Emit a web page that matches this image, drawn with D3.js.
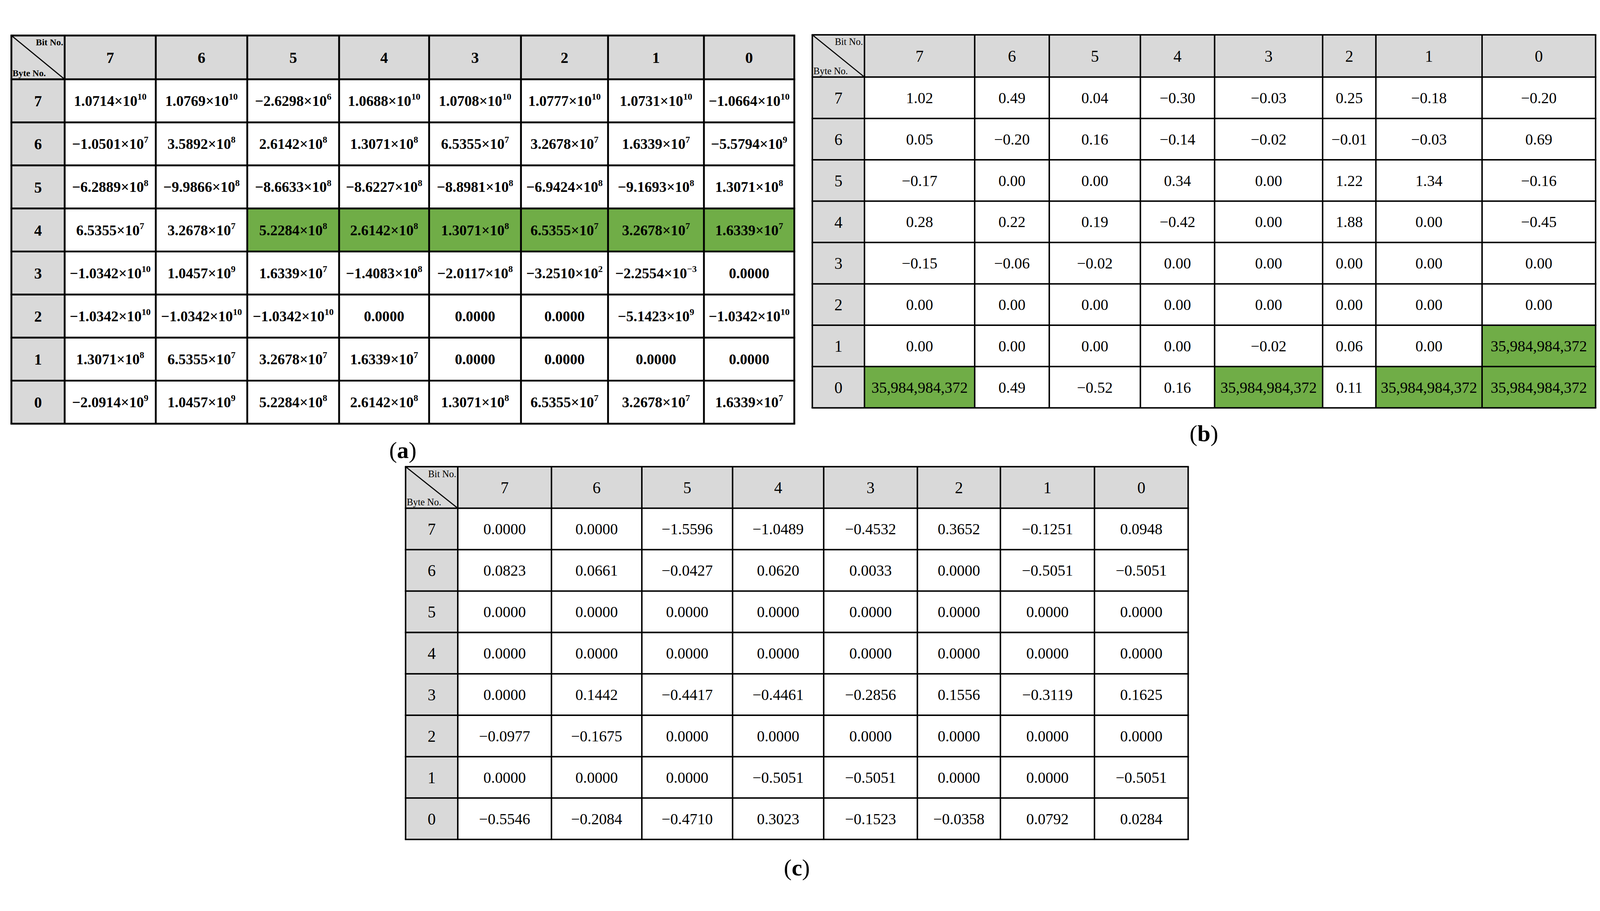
<!DOCTYPE html>
<html>
<head>
<meta charset="utf-8">
<script src="https://cdn.jsdelivr.net/npm/d3@7"></script>
<style>
  html, body { margin: 0; padding: 0; background: #fff; overflow: hidden; }
  svg { display: block; width: 100vw; height: 100vh; }
</style>
</head>
<body>
<svg id="chart" viewBox="0 0 4355 2331" preserveAspectRatio="xMidYMid meet"></svg>
<script>
// Column headers (bit numbers) and row headers (byte numbers)
const bits = ['7', '6', '5', '4', '3', '2', '1', '0']
const bytes = ['7', '6', '5', '4', '3', '2', '1', '0']

// Table (a) values, "^" marks the exponent
const valuesA = [
    ['1.0714×10^10', '1.0769×10^10', '−2.6298×10^6', '1.0688×10^10', '1.0708×10^10', '1.0777×10^10', '1.0731×10^10', '−1.0664×10^10'],
    ['−1.0501×10^7', '3.5892×10^8', '2.6142×10^8', '1.3071×10^8', '6.5355×10^7', '3.2678×10^7', '1.6339×10^7', '−5.5794×10^9'],
    ['−6.2889×10^8', '−9.9866×10^8', '−8.6633×10^8', '−8.6227×10^8', '−8.8981×10^8', '−6.9424×10^8', '−9.1693×10^8', '1.3071×10^8'],
    ['6.5355×10^7', '3.2678×10^7', '5.2284×10^8', '2.6142×10^8', '1.3071×10^8', '6.5355×10^7', '3.2678×10^7', '1.6339×10^7'],
    ['−1.0342×10^10', '1.0457×10^9', '1.6339×10^7', '−1.4083×10^8', '−2.0117×10^8', '−3.2510×10^2', '−2.2554×10^−3', '0.0000'],
    ['−1.0342×10^10', '−1.0342×10^10', '−1.0342×10^10', '0.0000', '0.0000', '0.0000', '−5.1423×10^9', '−1.0342×10^10'],
    ['1.3071×10^8', '6.5355×10^7', '3.2678×10^7', '1.6339×10^7', '0.0000', '0.0000', '0.0000', '0.0000'],
    ['−2.0914×10^9', '1.0457×10^9', '5.2284×10^8', '2.6142×10^8', '1.3071×10^8', '6.5355×10^7', '3.2678×10^7', '1.6339×10^7']
]
const highlightA = [[3, 2], [3, 3], [3, 4], [3, 5], [3, 6], [3, 7]]

const valuesB = [
    ['1.02', '0.49', '0.04', '−0.30', '−0.03', '0.25', '−0.18', '−0.20'],
    ['0.05', '−0.20', '0.16', '−0.14', '−0.02', '−0.01', '−0.03', '0.69'],
    ['−0.17', '0.00', '0.00', '0.34', '0.00', '1.22', '1.34', '−0.16'],
    ['0.28', '0.22', '0.19', '−0.42', '0.00', '1.88', '0.00', '−0.45'],
    ['−0.15', '−0.06', '−0.02', '0.00', '0.00', '0.00', '0.00', '0.00'],
    ['0.00', '0.00', '0.00', '0.00', '0.00', '0.00', '0.00', '0.00'],
    ['0.00', '0.00', '0.00', '0.00', '−0.02', '0.06', '0.00', '35,984,984,372'],
    ['35,984,984,372', '0.49', '−0.52', '0.16', '35,984,984,372', '0.11', '35,984,984,372', '35,984,984,372']
]
const highlightB = [[6, 7], [7, 0], [7, 4], [7, 6], [7, 7]]

const valuesC = [
    ['0.0000', '0.0000', '−1.5596', '−1.0489', '−0.4532', '0.3652', '−0.1251', '0.0948'],
    ['0.0823', '0.0661', '−0.0427', '0.0620', '0.0033', '0.0000', '−0.5051', '−0.5051'],
    ['0.0000', '0.0000', '0.0000', '0.0000', '0.0000', '0.0000', '0.0000', '0.0000'],
    ['0.0000', '0.0000', '0.0000', '0.0000', '0.0000', '0.0000', '0.0000', '0.0000'],
    ['0.0000', '0.1442', '−0.4417', '−0.4461', '−0.2856', '0.1556', '−0.3119', '0.1625'],
    ['−0.0977', '−0.1675', '0.0000', '0.0000', '0.0000', '0.0000', '0.0000', '0.0000'],
    ['0.0000', '0.0000', '0.0000', '−0.5051', '−0.5051', '0.0000', '0.0000', '−0.5051'],
    ['−0.5546', '−0.2084', '−0.4710', '0.3023', '−0.1523', '−0.0358', '0.0792', '0.0284']
]

const svg = d3.select('#chart')
const FONT = '"Liberation Serif", "Times New Roman", serif'

function drawTable(cfg) {
    const g = svg.append('g')
    const {cols, top, head, bottom, values, highlight, bold, label, labelY, fs} = cfg
    const weight = bold ? 'bold' : 'normal'
    const hl = new Set((highlight || []).map(d => d[0] + '-' + d[1]))

    const x = i => cols[i]
    const y = d3.scaleLinear().domain([0, 8]).range([head, bottom])

    // header backgrounds
    g.append('rect').attr('x', x(0)).attr('y', top)
        .attr('width', x(9) - x(0)).attr('height', head - top).attr('fill', '#d9d9d9')
    g.append('rect').attr('x', x(0)).attr('y', head)
        .attr('width', x(1) - x(0)).attr('height', bottom - head).attr('fill', '#d9d9d9')

    // cells
    values.forEach((row, r) => {
        row.forEach((v, c) => {
            const x0 = x(c + 1), x1 = x(c + 2), y0 = y(r), y1 = y(r + 1)
            if (hl.has(r + '-' + c)) {
                g.append('rect').attr('x', x0).attr('y', y0)
                    .attr('width', x1 - x0).attr('height', y1 - y0).attr('fill', '#70ad47')
            }
            const t = g.append('text')
                .attr('x', (x0 + x1) / 2).attr('y', (y0 + y1) / 2 + fs * 0.35)
                .attr('text-anchor', 'middle')
                .attr('font-family', FONT).attr('font-size', fs).attr('font-weight', weight)
            const parts = v.split('^')
            t.append('tspan').text(parts[0])
            if (parts[1]) {
                t.append('tspan').attr('font-size', fs * 0.62).attr('dy', -fs * 0.42).text(parts[1])
            }
        })
    })

    // column and row headers
    bits.forEach((b, c) => {
        g.append('text')
            .attr('x', (x(c + 1) + x(c + 2)) / 2).attr('y', (top + head) / 2 + fs * 0.38)
            .attr('text-anchor', 'middle').attr('font-family', FONT)
            .attr('font-size', fs * 1.05).attr('font-weight', weight).text(b)
    })
    bytes.forEach((b, r) => {
        g.append('text')
            .attr('x', (x(0) + x(1)) / 2).attr('y', (y(r) + y(r + 1)) / 2 + fs * 0.38)
            .attr('text-anchor', 'middle').attr('font-family', FONT)
            .attr('font-size', fs * 1.05).attr('font-weight', weight).text(b)
    })

    // corner cell
    g.append('line').attr('x1', x(0)).attr('y1', top).attr('x2', x(1)).attr('y2', head)
        .attr('stroke', '#000').attr('stroke-width', 3)
    const small = fs * 0.62
    g.append('text').attr('x', x(1) - 4).attr('y', top + small + 2)
        .attr('text-anchor', 'end').attr('font-family', FONT).attr('font-size', small)
        .attr('font-weight', weight).text('Bit No.')
    g.append('text').attr('x', x(0) + 3).attr('y', head - 8)
        .attr('font-family', FONT).attr('font-size', small)
        .attr('font-weight', weight).text('Byte No.')

    // grid lines
    const sw = cfg.sw
    d3.range(10).forEach(i => {
        g.append('line').attr('x1', x(i)).attr('x2', x(i)).attr('y1', top).attr('y2', bottom)
            .attr('stroke', '#000').attr('stroke-width', sw)
    })
    const rowsY = [top].concat(d3.range(9).map(y))
    rowsY.forEach(yy => {
        g.append('line').attr('x1', x(0) - sw / 2).attr('x2', x(9) + sw / 2).attr('y1', yy).attr('y2', yy)
            .attr('stroke', '#000').attr('stroke-width', sw)
    })

    // sub-figure label
    const lt = g.append('text').attr('x', (x(0) + x(9)) / 2).attr('y', labelY)
        .attr('text-anchor', 'middle').attr('font-family', FONT).attr('font-size', 64)
    lt.append('tspan').text('(')
    lt.append('tspan').attr('font-weight', 'bold').text(label)
    lt.append('tspan').text(')')
}

drawTable({
    cols: [31, 176, 424, 673, 923, 1168, 1418, 1655, 1916, 2162],
    top: 23, head: 142, bottom: 1079, values: valuesA, highlight: highlightA,
    bold: true, label: 'a', labelY: 1172, fs: 40, sw: 5
})
drawTable({
    cols: [2211, 2353, 2653, 2856, 3104, 3306, 3600, 3745, 4034, 4343],
    top: 21, head: 136, bottom: 1036, values: valuesB, highlight: highlightB,
    bold: false, label: 'b', labelY: 1127, fs: 42, sw: 4
})
drawTable({
    cols: [1104, 1246, 1501, 1747, 1994, 2242, 2497, 2723, 2979, 3234],
    top: 1196, head: 1309, bottom: 2210, values: valuesC, highlight: [],
    bold: false, label: 'c', labelY: 2308, fs: 42, sw: 4
})
</script>
</body>
</html>
